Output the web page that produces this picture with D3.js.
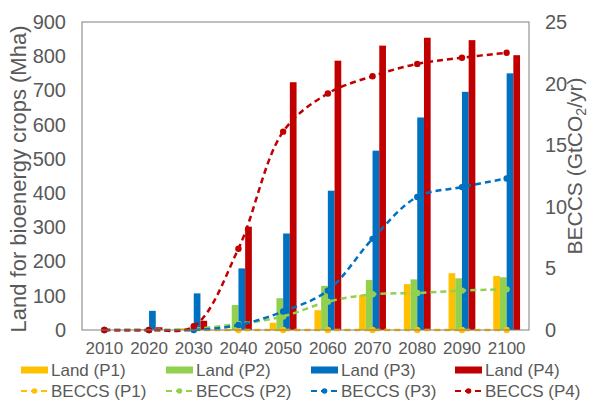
<!DOCTYPE html>
<html>
<head>
<meta charset="utf-8">
<script src="https://cdn.jsdelivr.net/npm/d3@7"></script>
<style>
  body { margin: 0; background: #fff; }
  text { font-family: Arial, "Liberation Sans", sans-serif; fill: #595959; }
</style>
</head>
<body>
<script>
// years on the x axis
var years = ["2010","2020","2030","2040","2050","2060","2070","2080","2090","2100"];

// land for bioenergy crops (Mha), bars
var landP1 = [0, 3, 5, 3, 21, 58, 102, 134, 166, 158];
var landP2 = [0, 2, 3, 73, 93, 129, 146, 148, 151, 154];
var landP3 = [0, 56, 107, 180, 282, 407, 524, 621, 696, 750];
var landP4 = [0, 8, 27, 302, 724, 787, 831, 854, 847, 803];

// BECCS (GtCO2/yr), dashed lines
var beccsP1 = [0, 0, 0, 0, 0, 0, 0, 0, 0, 0];
var beccsP2 = [0, 0, 0.1, 0.5, 1.1, 2.3, 2.9, 3.0, 3.2, 3.3];
var beccsP3 = [0, 0, 0, 0.4, 1.5, 3.2, 7.4, 10.8, 11.6, 12.3];
var beccsP4 = [0, 0, 0.3, 6.6, 16.1, 19.2, 20.6, 21.6, 22.1, 22.5];

var leftTicks = [0, 100, 200, 300, 400, 500, 600, 700, 800, 900];
var rightTicks = [0, 5, 10, 15, 20, 25];

var seriesNames = ["P1", "P2", "P3", "P4"];
var colors = ["#ffc000", "#92d050", "#0070c0", "#c00000"];
var landData = [landP1, landP2, landP3, landP4];
var beccsData = [beccsP1, beccsP2, beccsP3, beccsP4];

var margin = {top: 22, right: 63, bottom: 77, left: 82},
    width = 592 - margin.left - margin.right,
    height = 407 - margin.top - margin.bottom;

var svg = d3.select("body").append("svg")
  .attr("width", 592)
  .attr("height", 407);

var g = svg.append("g")
  .attr("transform", "translate(" + margin.left + "," + margin.top + ")");

var x = d3.scaleBand().domain(years).range([0, width])
  .paddingInner(0.4).paddingOuter(0.2);
var xInner = d3.scaleBand().domain(seriesNames).range([0, x.bandwidth()]);
var y = d3.scaleLinear().domain([0, 900]).range([height, 0]);
var y2 = d3.scaleLinear().domain([0, 25]).range([height, 0]);

// bars
seriesNames.forEach(function(s, i) {
  g.selectAll(".bar" + s)
    .data(landData[i])
    .enter().append("rect")
    .attr("x", function(d, j) { return x(years[j]) + xInner(s); })
    .attr("y", function(d) { return y(d); })
    .attr("width", xInner.bandwidth())
    .attr("height", function(d) { return height - y(d); })
    .attr("fill", colors[i]);
});

// smooth dashed lines
var line = d3.line()
  .x(function(d, j) { return x(years[j]) + x.bandwidth() / 2; })
  .y(function(d) { return y2(d); })
  .curve(d3.curveCatmullRom.alpha(0.5));

seriesNames.forEach(function(s, i) {
  g.append("path")
    .datum(beccsData[i])
    .attr("fill", "none")
    .attr("stroke", colors[i])
    .attr("stroke-width", 2.5)
    .attr("stroke-dasharray", "6,4")
    .attr("d", line);
  g.selectAll(".dot" + s)
    .data(beccsData[i])
    .enter().append("circle")
    .attr("cx", function(d, j) { return x(years[j]) + x.bandwidth() / 2; })
    .attr("cy", function(d) { return y2(d); })
    .attr("r", 3.2)
    .attr("fill", colors[i]);
});

// plot frame
g.append("rect")
  .attr("width", width).attr("height", height)
  .attr("fill", "none").attr("stroke", "#7f7f7f").attr("stroke-width", 1);

// left axis
var yAxis = g.append("g")
  .call(d3.axisLeft(y).tickValues(leftTicks).tickSize(0).tickPadding(16));
yAxis.select(".domain").remove();
yAxis.selectAll("text").style("font-size", "20px").attr("fill", "#595959");

// right axis
var y2Axis = g.append("g")
  .attr("transform", "translate(" + width + ",0)")
  .call(d3.axisRight(y2).tickValues(rightTicks).tickSize(0).tickPadding(16));
y2Axis.select(".domain").remove();
y2Axis.selectAll("text").style("font-size", "20px").attr("fill", "#595959");

// x axis
var xAxis = g.append("g")
  .attr("transform", "translate(0," + height + ")")
  .call(d3.axisBottom(x).tickSize(0).tickPadding(12));
xAxis.select(".domain").remove();
xAxis.selectAll("text").style("font-size", "17px").attr("fill", "#595959");

// axis titles
svg.append("text")
  .attr("transform", "translate(26," + (margin.top + height / 2 + 3) + ") rotate(-90)")
  .attr("text-anchor", "middle")
  .style("font-size", "22px")
  .text("Land for bioenergy crops (Mha)");

var t2 = svg.append("text")
  .attr("transform", "translate(582," + (margin.top + height / 2 - 10) + ") rotate(-90)")
  .attr("text-anchor", "middle")
  .style("font-size", "21px");
t2.append("tspan").text("BECCS (GtCO");
t2.append("tspan").attr("dy", 4).style("font-size", "14px").text("2");
t2.append("tspan").attr("dy", -4).text("/yr)");

// legend
var legendX = [21, 166, 311, 455];
seriesNames.forEach(function(s, i) {
  var lg = svg.append("g").attr("transform", "translate(" + legendX[i] + ",370)");
  lg.append("rect").attr("x", 0).attr("y", -3.5).attr("width", 27).attr("height", 7)
    .attr("fill", colors[i]);
  lg.append("text").attr("x", 30).attr("dy", "0.35em").style("font-size", "17px")
    .text("Land (" + s + ")");

  var lb = svg.append("g").attr("transform", "translate(" + legendX[i] + ",391)");
  lb.append("line").attr("x1", 0).attr("x2", 27)
    .attr("stroke", colors[i]).attr("stroke-width", 2)
    .attr("stroke-dasharray", "6,4");
  lb.append("circle").attr("cx", 13.5).attr("r", 2.8).attr("fill", colors[i]);
  lb.append("text").attr("x", 30).attr("dy", "0.35em").style("font-size", "17px")
    .text("BECCS (" + s + ")");
});
</script>
</body>
</html>
